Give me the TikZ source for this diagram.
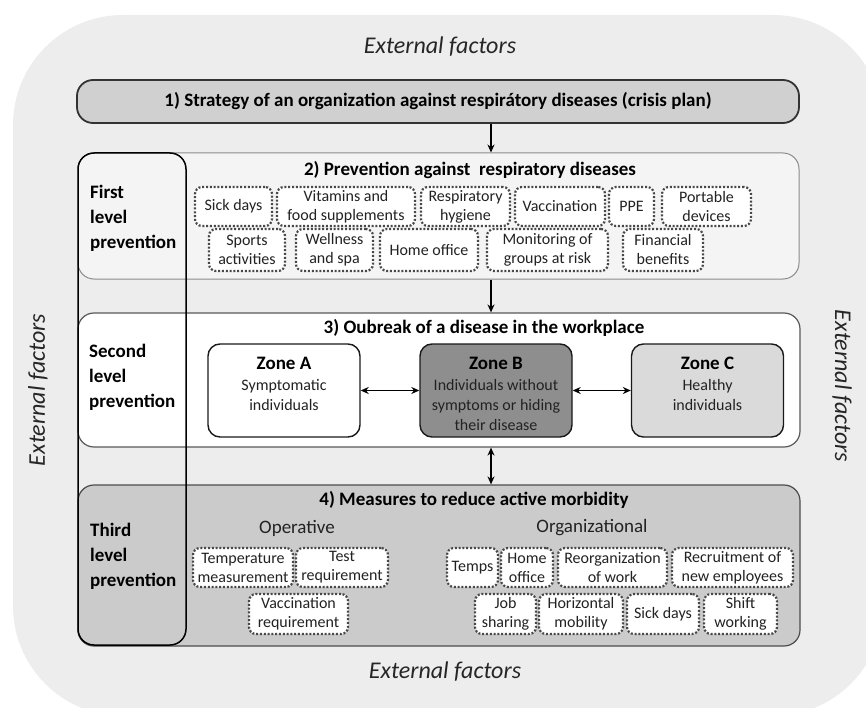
\documentclass[tikz,border=0pt]{standalone}
\usepackage{fontspec}
\setmainfont{Carlito}
\usetikzlibrary{arrows.meta}
\definecolor{bgc}{HTML}{EDEDED}
\definecolor{box1c}{HTML}{D0D0D0}
\definecolor{box2c}{HTML}{F4F4F4}
\definecolor{box4c}{HTML}{CBCBCB}
\definecolor{zbc}{HTML}{8E8E8E}
\definecolor{zcc}{HTML}{DADADA}
\definecolor{dotc}{HTML}{484848}
\definecolor{txtc}{HTML}{222222}
\newcommand\myfs[2]{\fontsize{#1}{#2}\selectfont}
\newcommand\dbox[6]{\node[dotbox, minimum width={#3-#2}, minimum height={#5-#4}] (#1) at ({(#2+#3)/2},{(#4+#5)/2}) {#6};}
\begin{document}
\begin{tikzpicture}[x=1pt,y=-1pt,
  bigbox/.style={rectangle, rounded corners=16pt, inner sep=0pt},
  dotbox/.style={rectangle, rounded corners=7pt, draw=dotc, fill=white, line width=2.2pt, dash pattern=on 2pt off 1.8pt, inner sep=0pt, align=center, font=\myfs{16}{19}, text=txtc},
  zone/.style={rectangle, rounded corners=12pt, draw=black!90, line width=1.4pt, minimum width=152pt, minimum height=93pt, inner sep=0pt},
  ttl/.style={font=\bfseries\myfs{19}{22}, inner sep=0pt},
  ztl/.style={font=\bfseries\myfs{19}{22}, inner sep=0pt},
  zdesc/.style={font=\myfs{16}{20}, align=center, inner sep=0pt, text=txtc, anchor=north},
  sub/.style={font=\myfs{19}{22}, inner sep=0pt, text=txtc},
  lvl/.style={font=\bfseries\myfs{19}{25}, align=left, inner sep=0pt, anchor=west},
  ext/.style={font=\itshape\myfs{24}{28}, text=black!85, inner sep=0pt},
  arr/.style={line width=1.6pt, -{Stealth[length=8pt,width=7pt]}},
  darr/.style={line width=1.6pt, {Stealth[length=8pt,width=7pt]}-{Stealth[length=8pt,width=7pt]}},
]
\useasboundingbox (0,0) rectangle (866,708);
\begin{scope}
  \clip (0,0) rectangle (866,708);
  \fill[bgc, rounded corners=110pt] (13,15) rectangle (883,716);
\end{scope}

% external factors
\node[ext] (eTop) at (440,47) {External factors};
\node[ext] (eBot) at (445,672) {External factors};
\node[ext, rotate=90] (eLeft) at (38,390) {External factors};
\node[ext, rotate=-90] (eRight) at (842,386) {External factors};

% main boxes
\node[bigbox, fill=box1c, draw=black!80, line width=1.8pt, minimum width=722pt, minimum height=43pt, font=\bfseries\myfs{19}{22}] (b1) at (438,101.5) {1) Strategy of an organization against respirátory diseases (crisis plan)};
\node[bigbox, fill=box2c, draw=black!45, line width=1pt, minimum width=721pt, minimum height=126pt] (b2) at (438.5,216) {};
\node[bigbox, fill=white, draw=black!65, line width=1.2pt, minimum width=722pt, minimum height=134pt] (b3) at (439,380) {};
\node[bigbox, fill=box4c, draw=black!70, line width=1.2pt, minimum width=722pt, minimum height=161pt] (b4) at (439,565.5) {};
\node[bigbox, draw=black, line width=1.5pt, minimum width=108pt, minimum height=492pt] (col) at (132,399) {};

% titles
\node[ttl] (t2) at (470,170) {2) Prevention against\ \ respiratory diseases};
\node[ttl] (t3) at (484,328) {3) Oubreak of a disease in the workplace};
\node[ttl] (t4) at (474,500) {4) Measures to reduce active morbidity};

% level labels
\node[lvl] (l1) at (90,218) {First\\level\\prevention};
\node[lvl] (l2) at (89,377) {Second\\level\\prevention};
\node[lvl] (l3) at (90,556) {Third\\level\\prevention};

% arrows between main boxes
\coordinate (ax) at (491,0);
\draw[arr] (b1.south -| ax) -- (b2.north -| ax);
\draw[arr] (b2.south -| ax) -- (b3.north -| ax);
\draw[darr] (b3.south -| ax) -- (b4.north -| ax);

% box 2 items
\dbox{p1}{195}{272}{187}{226}{Sick days}
\dbox{p2}{277}{415}{187}{226}{Vitamins and\\food supplements}
\dbox{p3}{421}{510}{187}{226}{Respiratory\\hygiene}
\dbox{p4}{515}{605}{187}{226}{Vaccination}
\dbox{p5}{609}{654}{187}{226}{PPE}
\dbox{p6}{662}{751}{187}{226}{Portable\\devices}
\dbox{p7}{209}{285}{229}{271}{Sports\\activities}
\dbox{p8}{296}{373}{229}{271}{Wellness\\and spa}
\dbox{p9}{380}{478}{229}{271}{Home office}
\dbox{p10}{487}{608}{229}{271}{Monitoring of\\groups at risk}
\dbox{p11}{623}{703}{229}{271}{Financial\\benefits}

% zones
\node[zone, fill=white] (zA) at (284,390.5) {};
\node[zone, fill=zbc] (zB) at (496,390.5) {};
\node[zone, fill=zcc] (zC) at (707.5,390.5) {};
\node[ztl] (zAt) at (284,363) {Zone A};
\node[ztl] (zBt) at (496,363) {Zone B};
\node[ztl] (zCt) at (707.5,363) {Zone C};
\node[zdesc] (zAd) at (284,379) {Symptomatic\\individuals};
\node[zdesc] (zBd) at (496,379) {Individuals without\\symptoms or hiding\\their disease};
\node[zdesc] (zCd) at (707.5,379) {Healthy\\individuals};
\draw[darr] (zA.east) -- (zB.west);
\draw[darr] (zB.east) -- (zC.west);

% box 4 items
\node[sub] (op) at (297,528) {Operative};
\node[sub] (org) at (592,528) {Organizational};
\dbox{o1}{193}{293}{548}{587}{Temperature\\measurement}
\dbox{o2}{296}{388}{548}{587}{Test\\requirement}
\dbox{o3}{249}{348}{594}{634}{Vaccination\\requirement}
\dbox{g1}{447}{498}{548}{587}{Temps}
\dbox{g2}{501}{553}{548}{587}{Home\\office}
\dbox{g3}{558}{667}{548}{587}{Reorganization\\of work}
\dbox{g4}{672}{793}{548}{587}{Recruitment of\\new employees}
\dbox{g5}{475}{536}{594}{634}{Job\\sharing}
\dbox{g6}{539}{623}{594}{634}{Horizontal\\mobility}
\dbox{g7}{627}{699}{594}{634}{Sick days}
\dbox{g8}{704}{777}{594}{634}{Shift\\working}
\end{tikzpicture}
\end{document}
